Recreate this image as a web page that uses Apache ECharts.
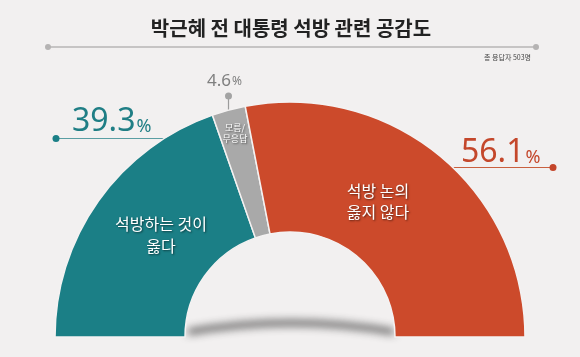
<!DOCTYPE html>
<html>
<head>
<meta charset="utf-8">
<script src="https://cdn.jsdelivr.net/npm/echarts@6/dist/echarts.min.js"></script>
<style>
html,body{margin:0;padding:0;background:#f2f0f0;}
#chart{width:580px;height:357px;}
</style>
</head>
<body>
<div id="chart"></div>
<script>
// ---- data ----
const titleText = '박근혜 전 대통령 석방 관련 공감도';
const noteText = '총 응답자 503명';
const categories = ['석방하는 것이 옳다', '모름/무응답', '석방 논의 옳지 않다'];
const innerLabels = ['석방하는 것이\n옳다', '모름/\n무응답', '석방 논의\n옳지 않다'];
const values = [39.3, 4.6, 56.1];
const sliceColors = ['#1b7f86', '#a9a9a9', '#cc4a2b'];
const pctColors = ['#1f7e85', '#808080', '#c4472b'];

const KR = '"Noto Sans CJK KR", "Noto Sans", sans-serif';
const NUM = '"Noto Sans", "Open Sans", sans-serif';

const chart = echarts.init(document.getElementById('chart'));

function pctText(i, big, small, x, y) {
  return {
    type: 'text', z: 100, x: x, y: y,
    style: {
      text: '{a|' + values[i].toFixed(1) + '}{b|%}',
      align: 'left', verticalAlign: 'bottom',
      rich: {
        a: {fontSize: big, fontFamily: NUM, fill: pctColors[i], lineHeight: big + 4, verticalAlign: 'bottom'},
        b: {fontSize: small, fontFamily: NUM, fill: pctColors[i], lineHeight: big + 4, verticalAlign: 'bottom', padding: [0, 0, 2, 1]}
      }
    }
  };
}

const innerStyle = (txt, size, lh) => ({
  text: txt, fontSize: size, fontFamily: KR, fill: '#ffffff', align: 'center', verticalAlign: 'middle',
  lineHeight: lh, textShadowColor: 'rgba(0,0,0,0.55)', textShadowBlur: 2, textShadowOffsetX: 1, textShadowOffsetY: 1
});

chart.setOption({
  backgroundColor: '#f2f0f0',
  animation: false,
  series: [{
    type: 'pie',
    center: [290, 337],
    radius: [105, 235],
    startAngle: 180,
    endAngle: 0,
    clockwise: true,
    silent: true,
    label: {show: false},
    labelLine: {show: false},
    itemStyle: {borderColor: '#f4f2f2', borderWidth: 1.5},
    data: categories.map((c, i) => ({name: c, value: values[i], itemStyle: {color: sliceColors[i]}}))
  }],
  graphic: [
    // title
    {type: 'text', x: 291, y: 28, z: 100, style: {text: titleText, fontSize: 20, fontWeight: 'bold', fontFamily: KR, fill: '#222', align: 'center', verticalAlign: 'middle'}},
    {type: 'line', z: 1, shape: {x1: 48, y1: 47, x2: 536, y2: 47}, style: {stroke: '#c6c4c4', lineWidth: 2}},
    {type: 'circle', z: 1, shape: {cx: 48, cy: 47, r: 3}, style: {fill: '#b5b3b3'}},
    {type: 'circle', z: 1, shape: {cx: 536, cy: 47, r: 3}, style: {fill: '#b5b3b3'}},
    {type: 'text', x: 531, y: 57, z: 100, style: {text: noteText, fontSize: 7, fontFamily: KR, fill: '#444', align: 'right', verticalAlign: 'middle'}},
    // shadow under arch
    {type: 'bezierCurve', z: 0, shape: {x1: 188, y1: 332 - 600, x2: 394, y2: 332 - 600, cpx1: 292, cpy1: 314 - 600},
      style: {stroke: 'rgba(60,60,60,1)', lineWidth: 5, fill: null, shadowBlur: 9, shadowColor: 'rgba(40,40,40,0.85)', shadowOffsetY: 600}},
    // leaders
    {type: 'line', z: 0, shape: {x1: 56, y1: 138.5, x2: 175, y2: 138.5}, style: {stroke: '#5a9ea3', lineWidth: 1.2}},
    {type: 'circle', z: 1, shape: {cx: 56, cy: 138.5, r: 3.5}, style: {fill: '#1b7f86'}},
    {type: 'line', z: 0, shape: {x1: 445, y1: 167.5, x2: 553, y2: 167.5}, style: {stroke: '#c9603f', lineWidth: 1.2}},
    {type: 'circle', z: 1, shape: {cx: 553, cy: 167.5, r: 3.5}, style: {fill: '#c4452a'}},
    {type: 'line', z: 0, shape: {x1: 228.5, y1: 96, x2: 228.5, y2: 116}, style: {stroke: '#9c9c9c', lineWidth: 1.2}},
    {type: 'circle', z: 1, shape: {cx: 228.5, cy: 96, r: 3.5}, style: {fill: '#a3a3a3'}},
    pctText(0, 32, 18, 72, 138),
    pctText(1, 17, 12, 207, 90),
    pctText(2, 32, 18, 461, 169),
    // inner labels
    {type: 'text', x: 161, y: 235, z: 100, style: innerStyle(innerLabels[0], 16, 22)},
    {type: 'text', x: 235, y: 133, z: 100, style: innerStyle(innerLabels[1], 9, 11)},
    {type: 'text', x: 378, y: 201.5, z: 100, style: innerStyle(innerLabels[2], 16, 21)}
  ]
});
</script>
</body>
</html>
